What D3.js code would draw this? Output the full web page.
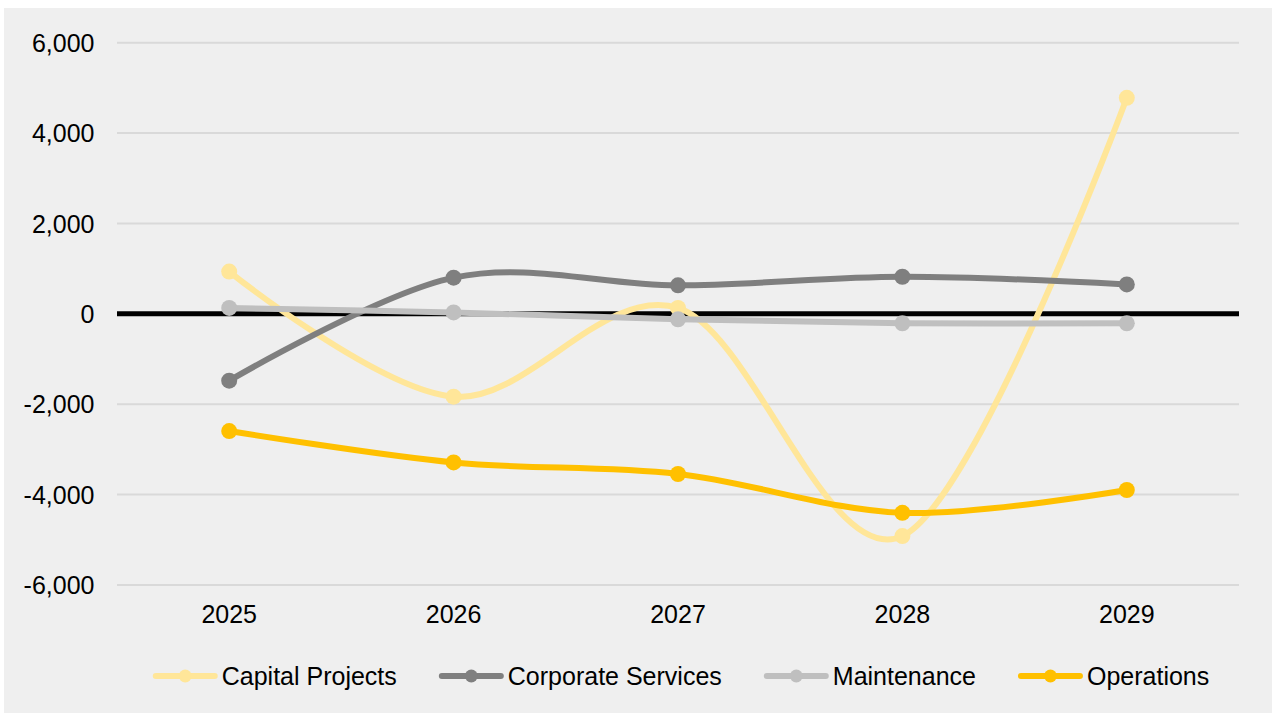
<!DOCTYPE html>
<html>
<head>
<meta charset="utf-8">
<script src="https://cdn.jsdelivr.net/npm/d3@7"></script>
<style>
  html, body { margin: 0; padding: 0; background: #ffffff; }
  svg { display: block; }
  text { font-family: "Liberation Sans", Arial, sans-serif; fill: #000; }
</style>
</head>
<body>
<svg id="chart" width="1272" height="713"></svg>
<script>
// Categories (years) and series values
const years = ["2025", "2026", "2027", "2028", "2029"];
const capitalProjects = [935, -1835, 130, -4920, 4780];
const corporateServices = [-1480, 800, 630, 820, 650];
const maintenance = [130, 30, -120, -210, -210];
const operations = [-2595, -3290, -3545, -4405, -3900];
const yTicks = [-6000, -4000, -2000, 0, 2000, 4000, 6000];

const seriesNames = ["Capital Projects", "Corporate Services", "Maintenance", "Operations"];
const seriesColors = ["#ffe699", "#7f7f7f", "#bfbfbf", "#ffc000"];
const seriesValues = [capitalProjects, corporateServices, maintenance, operations];

const series = seriesNames.map((name, i) => ({
  name, color: seriesColors[i],
  values: years.map((y, j) => ({ year: y, value: seriesValues[i][j] }))
}));

const svg = d3.select("#chart");
const W = 1272, H = 713;
const FONT = "25px";

// Chart background panel
svg.append("rect").attr("x", 4).attr("y", 8).attr("width", W - 4).attr("height", H - 8)
  .attr("fill", "#efefef");

const plot = { left: 117, right: 1239, top: 42.7, bottom: 584.9 };

const x = d3.scaleBand().domain(years).range([plot.left, plot.right]);
const y = d3.scaleLinear().domain([-6000, 6000]).range([plot.bottom, plot.top]);
const xc = d => x(d) + x.bandwidth() / 2;

// Thousands separator with a plain hyphen for negatives
const fmt = d => (d < 0 ? "-" : "") + d3.format(",")(Math.abs(d));

// Horizontal gridlines
svg.append("g").selectAll("line").data(yTicks.filter(t => t !== 0)).join("line")
  .attr("x1", plot.left).attr("x2", plot.right)
  .attr("y1", d => y(d)).attr("y2", d => y(d))
  .attr("stroke", "#d9d9d9").attr("stroke-width", 2);

// Y axis labels
const yAxis = d3.axisLeft(y).tickValues(yTicks).tickSize(0).tickPadding(0).tickFormat(fmt);
const gy = svg.append("g").attr("transform", `translate(${94.5},0)`).call(yAxis);
gy.select(".domain").remove();
gy.selectAll("text").style("font-size", FONT).attr("dy", "0.35em")
  .attr("font-family", null).style("font-family", "'Liberation Sans', Arial, sans-serif");

// X axis labels
const xAxis = d3.axisBottom(x).tickSize(0).tickPadding(0);
const gx = svg.append("g").attr("transform", `translate(0,${614.5})`).call(xAxis);
gx.select(".domain").remove();
gx.selectAll("text").style("font-size", FONT).attr("dy", "0.35em")
  .attr("font-family", null).style("font-family", "'Liberation Sans', Arial, sans-serif");

// Zero baseline
svg.append("line")
  .attr("x1", plot.left).attr("x2", plot.right)
  .attr("y1", y(0)).attr("y2", y(0))
  .attr("stroke", "#000").attr("stroke-width", 5);

// Smoothed series lines
const line = d3.line()
  .x(d => xc(d.year)).y(d => y(d.value))
  .curve(d3.curveCardinal.tension(0));

const sg = svg.append("g").selectAll("g").data(series).join("g");
sg.append("path")
  .attr("d", d => line(d.values))
  .attr("fill", "none")
  .attr("stroke", d => d.color)
  .attr("stroke-width", 6)
  .attr("stroke-linecap", "round")
  .attr("stroke-linejoin", "round");
sg.selectAll("circle").data(d => d.values.map(v => ({ ...v, color: d.color }))).join("circle")
  .attr("cx", d => xc(d.year)).attr("cy", d => y(d.value))
  .attr("r", 8).attr("fill", d => d.color);

// Legend
const legend = svg.append("g");
const legendY = 676;
const items = legend.selectAll("g").data(series).join("g");
items.append("line")
  .attr("x1", 3).attr("x2", 62).attr("y1", 0).attr("y2", 0)
  .attr("stroke", d => d.color).attr("stroke-width", 6).attr("stroke-linecap", "round");
items.append("circle").attr("cx", 32.5).attr("cy", 0).attr("r", 6.5).attr("fill", d => d.color);
items.append("text").attr("x", 69).attr("y", 0).attr("dy", "0.35em")
  .style("font-size", FONT).text(d => d.name);

const gap = 42;
const widths = [];
items.each(function () {
  widths.push(69 + d3.select(this).select("text").node().getComputedTextLength());
});
const total = d3.sum(widths) + gap * (widths.length - 1);
let cx = 681 - total / 2;
items.each(function (d, i) {
  d3.select(this).attr("transform", `translate(${cx},${legendY})`);
  cx += widths[i] + gap;
});
</script>
</body>
</html>
